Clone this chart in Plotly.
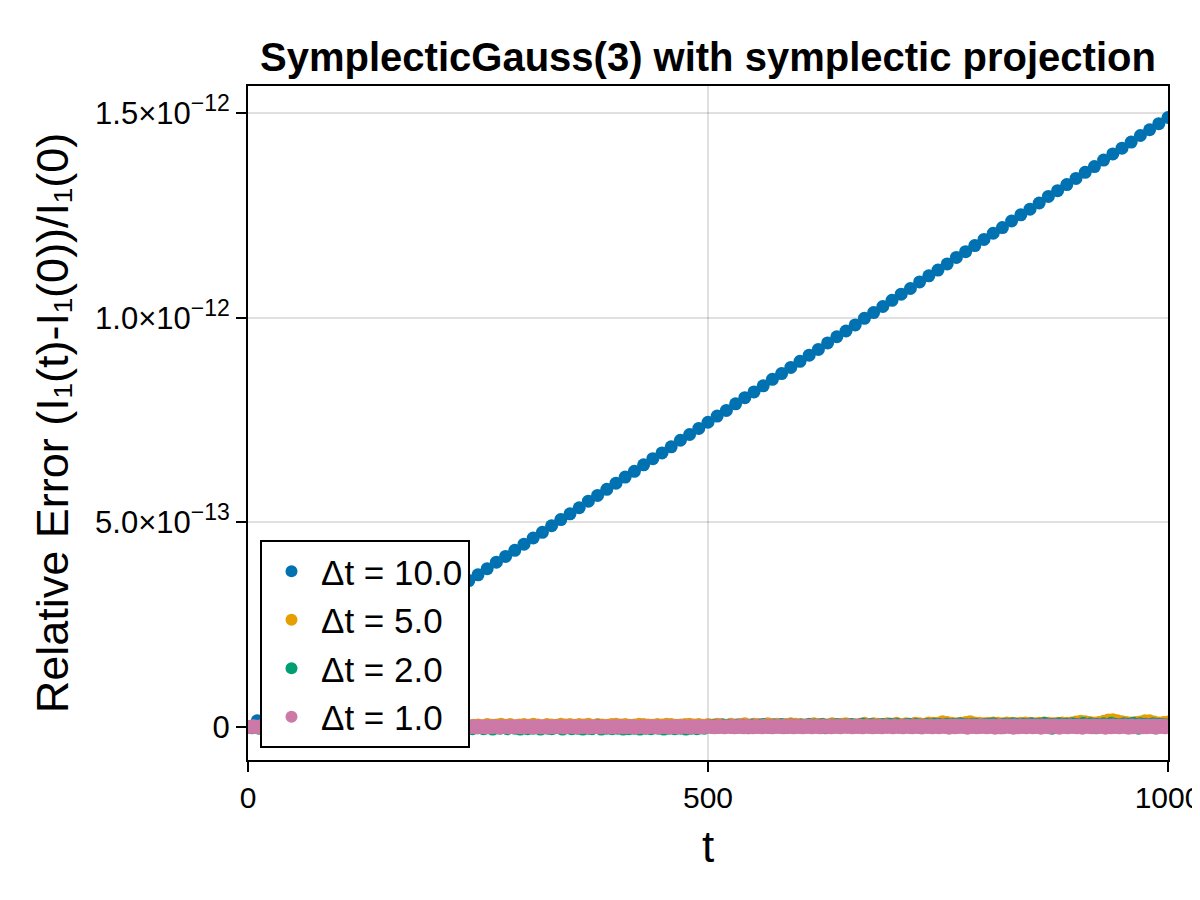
import plotly.graph_objects as go

# ---------------- data (relative error in units of 1e-15) ----------------
labels = ["Δt = 10.0", "Δt = 5.0", "Δt = 2.0", "Δt = 1.0"]
steps = [10, 5, 2, 1]
colors = ["#0072B2", "#E69F00", "#009E73", "#CC79A7"]
unit = 1e-15

err_dt10 = [
    0, 15, 30, 44, 60, 74, 89, 105, 119, 134, 149, 164, 178, 194, 209, 223, 238, 254, 268, 283,
    298, 313, 327, 343, 358, 372, 387, 403, 417, 432, 447, 462, 476, 492, 507, 521, 536, 552, 566, 581,
    596, 611, 625, 641, 656, 670, 685, 701, 715, 730, 745, 760, 774, 790, 805, 819, 834, 850, 864, 879,
    894, 909, 923, 939, 954, 968, 983, 999, 1013, 1028, 1043, 1058, 1072, 1088, 1103, 1117, 1132, 1148, 1162, 1177,
    1192, 1207, 1221, 1237, 1252, 1266, 1281, 1297, 1311, 1326, 1341, 1356, 1370, 1386, 1401, 1415, 1430, 1446, 1460, 1475,
    1490,
]

err_dt5 = [
    0, 2, 1, 3, 2, 4, 1, 3, 5, 2, 3, 4, 2, 5, 3, 1, 4, 3, 6, 2, 4, 3, 5, 2, 4,
    3, 1, 4, 5, 3, 2, 4, 6, 3, 4, 2, 5, 3, 4, 6, 3, 5, 2, 4, 3, 6, 4, 5, 3, 4,
    5, 3, 6, 4, 5, 7, 4, 6, 3, 5, 6, 4, 7, 5, 3, 6, 5, 4, 7, 5, 6, 4, 6, 5, 7,
    3, 6, 5, 4, 6, 7, 5, 6, 4, 5, 7, 6, 5, 4, 6, 5, 7, 6, 4, 5, 6, 7, 5, 6, 4,
    6, 5, 7, 6, 4, 7, 5, 6, 8, 5, 7, 6, 5, 8, 6, 7, 5, 6, 8, 7, 6, 5, 7, 8, 6,
    7, 5, 8, 6, 7, 8, 6, 5, 7, 9, 6, 8, 7, 6, 8, 7, 9, 6, 8, 7, 9, 8, 7, 10, 9,
    9, 13, 11, 9, 8, 9, 11, 13, 10, 9, 8, 9, 10, 9, 8, 10, 9, 8, 9, 10, 9, 8, 9, 10, 9,
    8, 9, 10, 9, 10, 12, 14, 13, 11, 10, 11, 14, 17, 18, 15, 13, 11, 10, 11, 12, 15, 15, 12, 10, 11,
    12,
]

err_dt2 = [
    -1, 0, -2, 1, -1, 0, -3, 1, 0, -1, 2, -2, 0, -1, 1, -3, 0, -2, 1, -1, 0, 2, -1, -2, 0,
    -1, 1, -2, 0, -3, 1, -1, 0, 2, -2, -1, 0, 1, -3, -1, 0, -2, 1, 0, -1, -2, 2, 0, -1, -3,
    0, -1, 1, -2, 0, -1, 2, -3, -1, 0, 1, -2, -1, 0, -4, 1, -1, 0, -2, 1, -1, -3, 0, 1, -1,
    -2, 0, 1, -1, -3, 0, 2, -1, -2, 0, -1, 1, -3, 0, -1, 2, -2, -1, 0, -4, 1, -1, 0, -2, 1,
    -1, 0, -3, 1, -2, 0, -1, 2, -1, -4, 0, 1, -2, -1, 0, -3, 1, -1, 0, 2, -2, -1, -4, 0, 1,
    -2, -1, 0, -4, 1, -2, 0, -1, -5, 1, -2, 0, -3, -1, 2, -2, -4, 0, -1, 1, -3, -2, 0, -5, -1,
    1, -2, -4, 0, -1, -3, 2, -2, -1, -5, 0, -2, 1, -3, -1, -4, 0, -2, 2, -1, -3, -5, 0, -1, -2,
    0, -4, -1, 2, -3, -2, 0, -5, -1, 1, -3, -2, -4, 0, -1, 3, -2, -5, -1, 0, -3, 1, -2, -4, 0,
    -1, -3, 2, -2, -5, 0, -1, -4, 1, -2, -3, 0, -1, -5, 2, -1, -3, -2, 0, -4, 1, -2, -1, -3, 0,
    -2, -5, 1, -1, -3, 0, -2, -4, 2, -1, -3, -1, 0, -5, 1, -2, -3, 0, -1, -4, 2, -2, -1, -3, 0,
    1, 3, 0, 2, 4, -1, 3, 1, 5, 0, 2, 4, 1, -1, 3, 2, 5, 0, 2, 4, 1, 3, -2, 2, 5,
    1, 3, 0, 4, 2, 6, 1, 3, -1, 4, 2, 5, 0, 3, 1, 6, 2, 4, -1, 3, 5, 1, 2, 4, 0,
    3, 5, 1, 4, 2, 6, 0, 3, 5, 2, 4, 1, 6, 3, -2, 4, 2, 5, 1, 3, 6, 2, 4, 0, 5,
    2, 4, 1, 6, 3, 5, 0, 4, 2, 7, 1, 3, 5, 2, 6, -1, 4, 3, 5, 1, 6, 2, 4, 3, 7,
    1, 5, 3, 6, 2, 4, 0, 5, 3, 7, 2, 4, 1, 6, 3, 5, -2, 4, 2, 6, 3, 5, 1, 7, 4,
    2, 6, 3, 5, 1, 7, 4, 2, 6, -1, 5, 3, 8, 2, 4, 6, 1, 5, 3, 7, 2, 6, 4, 0, 5,
    3, 7, 2, 6, 4, 8, 1, 5, 3, -2, 6, 4, 7, 2, 5, 3, 8, 1, 6, 4, 2, 7, 5, 3, 6,
    2, 8, 4, 6, 1, 5, 7, 3, 9, 2, 6, 4, -3, 7, 5, 3, 8, 2, 6, 4, 7, 1, 5, 8, 3,
    6, 2, 7, 4, 9, 3, 5, 1, 8, 4, 6, -2, 7, 3, 5, 8, 2, 6, 4, 9, 3, 7, 5, 1, 6,
    4, 8, 2, 7, 5, 3, 9, 4, 6, -3, 8, 5, 2, 7, 4, 6, 3, 8, -2, 5, 7, 4, 6, 3, 5,
    4,
]

err_dt1 = [
    0, 1, -1, 2, 0, 1, 3, -1, 1, 0, 2, -2, 1, 0, 3, 1, -1, 2, 0, 1, -2, 3, 1, 0, 2,
    1, -1, 0, 2, 3, -1, 1, 0, 2, 1, -2, 0, 3, 1, -1, 2, 0, 1, 3, -1, 0, 2, 1, -2, 1,
    2, 0, 1, -1, 3, 1, 0, 2, -2, 1, 0, 3, 2, -1, 1, 0, 2, 1, -1, 3, 0, 1, 2, -2, 0,
    1, 3, -1, 0, 2, 1, -2, 1, 3, 0, 2, -1, 1, 0, 2, 3, -1, 1, 0, -2, 2, 1, 3, 0, 1,
    -1, 2, 0, 1, 3, -2, 1, 0, 2, 1, -1, 3, 0, 2, 1, -1, 0, 2, 3, 1, -2, 0, 1, 2, -1,
    3, 1, 0, 2, -1, 1, 2, 0, -2, 3, 1, 0, 2, 1, -1, 2, 0, 3, 1, -2, 1, 0, 2, -1, 3,
    0, 2, 1, -1, 3, 0, 1, 2, -2, 1, 3, 0, -1, 2, 1, 0, 3, -1, 2, 1, 0, -2, 3, 1, 0,
    2, -1, 1, 3, 0, 2, -2, 1, 0, 3, 1, -1, 2, 0, 1, 3, -1, 0, 2, 1, -2, 3, 0, 1, 2,
    -1, 1, 3, 0, 2, -2, 1, 0, 3, 2, -1, 1, 0, 2, 3, -1, 1, 0, -2, 2, 1, 3, 0, 1, -1,
    2, 0, 3, 1, -1, 2, 0, 1, -2, 3, 1, 0, 2, -1, 1, 3, 0, 2, -1, 1, 0, 3, 2, -2, 1,
    0, 3, 1, -1, 2, 0, 1, 3, -2, 1, 0, 2, 3, -1, 1, 0, 2, -1, 3, 1, 0, 2, 1, -2, 0,
    3, 1, 0, 2, -1, 1, 3, 0, 2, -2, 1, 0, 3, 1, -1, 2, 0, 1, 3, -1, 2, 0, 1, -2, 3,
    1, 0, 2, -1, 3, 1, 0, 2, 1, -2, 3, 0, 1, 2, -1, 0, 3, 1, 2, -2, 0, 1, 3, -1, 2,
    0, 1, 3, -2, 1, 2, 0, -1, 3, 1, 0, 2, -1, 1, 3, 0, 2, 1, -2, 0, 3, 1, -1, 2, 1,
    3, 0, 1, -1, 2, 0, 3, 1, -2, 1, 2, 0, 3, -1, 1, 0, 2, 3, -1, 1, 0, 2, -2, 3, 1,
    0, 2, 1, -1, 3, 0, 2, 1, -2, 0, 3, 1, 2, -1, 0, 1, 3, 2, -1, 0, 1, 2, -2, 3, 0,
    1, 3, 0, 2, -1, 1, 0, 3, 2, -2, 1, 0, 2, 3, -1, 1, 2, 0, -1, 3, 1, 0, 2, -2, 1,
    2, 0, 3, 1, -1, 0, 2, 1, 3, -2, 0, 1, 2, -1, 3, 0, 1, 2, -1, 0, 3, 1, -2, 2, 0,
    1, 2, -1, 3, 0, 1, 2, -2, 0, 3, 1, 2, -1, 0, 3, 1, -2, 2, 0, 1, 3, -1, 0, 2, 1,
    3, -1, 1, 0, 2, -2, 3, 1, 0, 2, 1, -1, 3, 0, 2, 1, -2, 0, 3, 1, 2, -1, 0, 3, 1,
    0, 2, 3, -1, 1, 0, 2, -2, 3, 1, 0, 2, 4, -1, 1, 3, 0, 2, -2, 1, 3, 0, 2, 1, -1,
    2, 4, 0, 1, -2, 3, 1, 0, 2, -1, 4, 1, 0, 3, -2, 2, 1, 4, 0, -1, 3, 2, 0, 1, -2,
    3, 1, 4, 0, 2, -1, 1, 3, 0, -2, 2, 4, 1, 0, 3, -1, 2, 1, 4, 0, -2, 3, 1, 2, 0,
    1, 4, -1, 2, 0, 3, 1, -2, 4, 2, 0, 1, 3, -1, 2, 4, 0, 1, -2, 3, 2, 0, 4, 1, -1,
    2, 0, 3, -2, 1, 4, 0, 2, -1, 3, 1, 4, 0, -2, 2, 1, 3, 0, 4, -1, 1, 2, -2, 3, 0,
    4, 1, 0, 2, -1, 3, 2, 0, 4, -2, 1, 3, 0, 2, -1, 4, 1, 0, 3, -2, 2, 1, 4, 0, 3,
    1, -1, 2, 4, 0, 3, 1, -2, 2, 0, 4, 1, 3, -1, 0, 2, 4, 1, -2, 3, 0, 2, 1, 4, -1,
    0, 3, 1, 2, -2, 4, 0, 1, 3, -1, 2, 0, 4, 1, -2, 3, 1, 0, 2, 4, -1, 1, 3, 0, 2,
    3, -2, 1, 4, 0, 2, 1, -1, 3, 0, 4, 2, -2, 1, 0, 3, 2, 4, -1, 0, 1, 3, -2, 2, 4,
    1, 0, 3, -1, 2, 4, 0, 1, -2, 3, 2, 0, 4, 1, -1, 3, 0, 2, 4, -2, 1, 3, 0, 2, 1,
    4, -2, 1, 3, 0, 5, 2, -1, 3, 1, 4, 0, -3, 2, 5, 1, 0, 3, -2, 4, 1, 2, -1, 5, 0,
    2, 4, -1, 3, 0, 5, 1, -3, 2, 4, 0, 3, -1, 5, 2, 0, 4, -2, 1, 3, 5, 0, -1, 2, 4,
    0, 3, 5, -2, 1, 4, 2, -1, 3, 0, 5, 1, -3, 4, 2, 0, 3, -1, 5, 1, 2, -2, 4, 0, 3,
    5, 1, -1, 3, 0, 4, 2, -3, 5, 1, 0, 3, -2, 4, 2, 5, 0, -1, 3, 1, 4, -2, 0, 5, 2,
    1, 4, 0, -2, 3, 5, 1, -1, 2, 4, 0, 3, -3, 5, 1, 2, -1, 4, 0, 3, 5, -2, 1, 2, 4,
    3, 0, 5, -1, 2, 4, 1, -3, 3, 0, 5, 2, -1, 4, 1, 3, -2, 0, 5, 2, 4, -1, 3, 1, 0,
    4, -2, 2, 5, 0, 3, 1, -3, 4, 2, 0, 5, 1, -1, 3, 4, 0, -2, 2, 5, 1, 3, -1, 4, 0,
    2, 5, -1, 3, 0, 4, 1, -3, 5, 2, 0, 3, 4, -2, 1, 5, 0, 3, -1, 2, 4, 1, -2, 5, 3,
    0, 4, 2, -1, 5, 1, 3, -3, 2, 4, 0, 5, -2, 1, 3, 2, -1, 4, 0, 5, 1, 3, -2, 2, 4,
    1, 3, -2, 5, 0, 2, 4, -1, 3, 1, 5, 0, -3, 2, 4, 1, 3, -1, 5, 0, 2, 4, -2, 3, 1,
    2,
]

series = [err_dt10, err_dt5, err_dt2, err_dt1]

x_ticks = [0, 500, 1000]
y_tickvals = [0, 5e-13, 1e-12, 1.5e-12]
SUP = "<sup><span style='font-size:23px'>{}</span></sup>"
y_ticktext = ["0", "5.0×10" + SUP.format("−13"), "1.0×10" + SUP.format("−12"), "1.5×10" + SUP.format("−12")]

title_text = "SymplecticGauss(3) with symplectic projection"
xlabel = "t"
ylabel = "Relative Error (I₁(t)-I₁(0))/I₁(0)"

# ---------------- figure ----------------
# The page body has an 8px margin, so the figure is 1192x892 to fill the 1200x900 window.
FONT = "Liberation Sans, Arial, sans-serif"
fig = go.Figure()
for i, (lab, dt, col, vals) in enumerate(zip(labels, steps, colors, series)):
    t = [k * dt for k in range(len(vals))]
    y = [v * unit for v in vals]
    fig.add_trace(go.Scatter(
        x=t, y=y, mode="markers", name=lab, legendgroup=f"g{i}",
        marker=dict(color=col, size=13, line=dict(width=0)),
    ))

axis_common = dict(
    showline=True, linecolor="black", linewidth=2, mirror=True,
    ticks="outside", ticklen=10, tickwidth=2, tickcolor="black",
    showgrid=True, gridcolor="rgba(0,0,0,0.12)", gridwidth=2,
    zeroline=False, ticklabeloverflow="allow", automargin=False,
)

fig.update_layout(
    width=1192, height=892,
    paper_bgcolor="white", plot_bgcolor="white",
    margin=dict(l=240, r=32, t=78, b=140, autoexpand=False),
    title=dict(text=title_text, x=0.5, xref="paper", y=1 - 49 / 892, yref="container",
               xanchor="center", yanchor="middle",
               font=dict(family=FONT, size=40, color="black", weight="bold")),
    xaxis=dict(range=[0, 1000], tickvals=x_ticks, **axis_common,
               tickfont=dict(family=FONT, size=30, color="black"),
               title=dict(text=xlabel, font=dict(family=FONT, size=44, color="black"), standoff=18)),
    yaxis=dict(range=[-0.0807e-12, 1.567e-12], tickvals=y_tickvals, ticktext=y_ticktext, **axis_common,
               tickfont=dict(family=FONT, size=31, color="black"),
               title=dict(text=ylabel, font=dict(family=FONT, size=45, color="black"), standoff=12)),
    legend=dict(x=(260 - 248) / 920, y=(760 - 748) / 674, xanchor="left", yanchor="bottom",
                bgcolor="white", bordercolor="black", borderwidth=2,
                font=dict(family=FONT, size=35, color="black"),
                tracegroupgap=0, itemsizing="constant", itemwidth=49),
    showlegend=True,
)

fig.write_html("out.html")
